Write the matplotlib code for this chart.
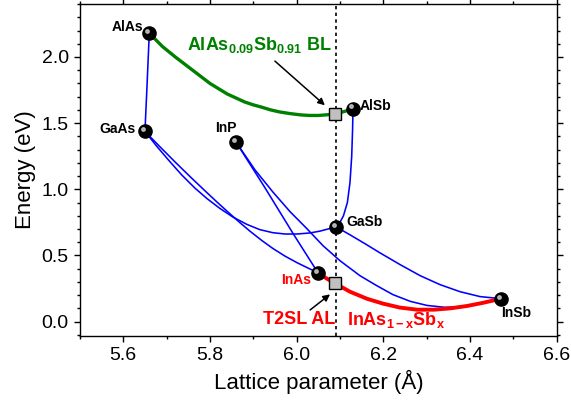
import matplotlib
matplotlib.use("Agg")
import matplotlib.pyplot as plt
import matplotlib.transforms as mtransforms
from matplotlib.ticker import MultipleLocator

plt.rcParams['font.family'] = ['Liberation Sans', 'DejaVu Sans']
plt.rcParams['mathtext.fontset'] = 'custom'
plt.rcParams['mathtext.rm'] = 'Liberation Sans'
plt.rcParams['mathtext.bf'] = 'Liberation Sans:bold'

# binary compounds: lattice parameter (A), band gap (eV)
names = ['AlAs', 'GaAs', 'InP', 'AlSb', 'GaSb', 'InAs', 'InSb']
a_bin = [5.66, 5.65, 5.86, 6.13, 6.091, 6.049, 6.472]
e_bin = [2.18, 1.437, 1.357, 1.61, 0.716, 0.37, 0.173]

# ternary curves
alassb_x = [5.66, 5.675, 5.69, 5.705, 5.72, 5.74, 5.76, 5.78, 5.80, 5.82, 5.84, 5.86,
            5.88, 5.90, 5.92, 5.94, 5.96, 5.985, 6.01, 6.03, 6.05, 6.07, 6.09, 6.11, 6.13]
alassb_e = [2.18, 2.13, 2.08, 2.04, 2.00, 1.95, 1.90, 1.85, 1.80, 1.76, 1.72, 1.69,
            1.66, 1.638, 1.62, 1.60, 1.585, 1.572, 1.562, 1.558, 1.558, 1.563, 1.572, 1.588, 1.61]

algaas_x = [5.66, 5.655, 5.65]
algaas_e = [2.18, 1.80, 1.437]

algasb_x = [6.130, 6.129, 6.127, 6.123, 6.117, 6.108, 6.100, 6.091]
algasb_e = [1.61, 1.45, 1.25, 1.05, 0.90, 0.80, 0.75, 0.716]

gaassb_x = [5.65, 5.678, 5.708, 5.735, 5.765, 5.793, 5.823, 5.853, 5.885, 5.915,
            5.945, 5.973, 6.001, 6.031, 6.054, 6.091]
gaassb_e = [1.437, 1.322, 1.207, 1.108, 1.010, 0.930, 0.855, 0.790, 0.735, 0.695,
            0.672, 0.662, 0.662, 0.670, 0.684, 0.716]

ingaas_x = [5.65, 5.685, 5.719, 5.754, 5.788, 5.818, 5.846, 5.869, 5.892, 5.920,
            5.945, 5.973, 6.001, 6.026, 6.049]
ingaas_e = [1.437, 1.320, 1.208, 1.096, 0.990, 0.898, 0.815, 0.748, 0.684, 0.612,
            0.553, 0.495, 0.445, 0.405, 0.37]

inasp_x = [5.860, 5.927, 5.992, 6.049]
inasp_e = [1.357, 1.011, 0.664, 0.37]

inpsb_x = [5.860, 5.904, 5.945, 5.985, 6.024, 6.061, 6.100, 6.146, 6.183, 6.222,
           6.262, 6.301, 6.342, 6.377, 6.423, 6.472]
inpsb_e = [1.357, 1.146, 0.980, 0.830, 0.701, 0.573, 0.460, 0.347, 0.275, 0.204,
           0.153, 0.122, 0.108, 0.112, 0.135, 0.173]

gainsb_x = [6.091, 6.123, 6.158, 6.192, 6.239, 6.285, 6.331, 6.377, 6.423, 6.472]
gainsb_e = [0.716, 0.656, 0.588, 0.520, 0.430, 0.347, 0.279, 0.226, 0.189, 0.173]

inassb_x = [6.049, 6.070, 6.088, 6.123, 6.162, 6.199, 6.238, 6.278, 6.317, 6.354,
            6.393, 6.430, 6.472]
inassb_e = [0.37, 0.324, 0.29, 0.226, 0.173, 0.136, 0.106, 0.09, 0.09, 0.100,
            0.118, 0.142, 0.173]

# lattice-matched points
sq_x = [6.088, 6.088]
sq_e = [1.572, 0.292]
a_match = 6.09

fig = plt.figure(figsize=(5.71, 4.05), dpi=100)
ax = fig.add_axes([0.140, 0.170, 0.835, 0.820])

blue = '#0000ff'
for xs, es in [(algaas_x, algaas_e), (algasb_x, algasb_e), (gaassb_x, gaassb_e),
               (ingaas_x, ingaas_e), (inasp_x, inasp_e), (inpsb_x, inpsb_e),
               (gainsb_x, gainsb_e)]:
    ax.plot(xs, es, color=blue, lw=1.15, zorder=2, solid_joinstyle='round')

ax.plot(alassb_x, alassb_e, color='#008000', lw=2.4, zorder=3, solid_joinstyle='round')
ax.plot(inassb_x, inassb_e, color='#ff0000', lw=2.8, zorder=3, solid_joinstyle='round')

ax.axvline(a_match, color='black', lw=1.2, ls=(0, (2, 2)), zorder=1)

# spheres with a small highlight
ax.plot(a_bin, e_bin, 'o', color='black', ms=9.5, zorder=5)
hl = mtransforms.offset_copy(ax.transData, fig=fig, x=-1.5, y=1.5, units='points')
ax.plot(a_bin, e_bin, 'o', color='#d0d0d0', ms=2.5, alpha=0.8, transform=hl, zorder=6)

ax.plot(sq_x, sq_e, 's', mfc='#c0c0c0', mec='black', mew=1.0, ms=8.5, zorder=6)

lab = dict(fontsize=10, fontweight='bold', va='center')
ax.text(5.645, 2.225, 'AlAs', ha='right', **lab)
ax.text(5.629, 1.455, 'GaAs', ha='right', **lab)
ax.text(5.837, 1.463, 'InP', ha='center', **lab)
ax.text(6.146, 1.629, 'AlSb', ha='left', **lab)
ax.text(6.114, 0.754, 'GaSb', ha='left', **lab)
ax.text(6.033, 0.317, 'InAs', ha='right', color='#ff0000', **lab)
ax.text(6.472, 0.068, 'InSb', ha='left', **lab)

ax.text(5.747, 2.09, r'$\mathbf{AlAs_{0.09}Sb_{0.91}}$ BL', color='#008000',
        fontsize=13, fontweight='bold', ha='left', va='center')
ax.text(5.922, 0.015, 'T2SL AL', color='#ff0000', fontsize=13, fontweight='bold',
        ha='left', va='center')
ax.text(6.116, 0.015, r'$\mathbf{InAs_{1-x}Sb_{x}}$', color='#ff0000', fontsize=13,
        ha='left', va='center')

arr = dict(arrowstyle='-|>', color='black', lw=1.1, mutation_scale=10)
ax.annotate('', xy=(6.070, 1.621), xytext=(5.945, 1.983), arrowprops=arr)
ax.annotate('', xy=(6.082, 0.219), xytext=(6.026, 0.075), arrowprops=arr)

ax.set_xlim(5.5, 6.6)
ax.set_ylim(-0.11, 2.40)
ax.xaxis.set_major_locator(MultipleLocator(0.2))
ax.xaxis.set_minor_locator(MultipleLocator(0.1))
ax.yaxis.set_major_locator(MultipleLocator(0.5))
ax.yaxis.set_minor_locator(MultipleLocator(0.1))
ax.tick_params(which='both', direction='out', top=True, right=True, width=1.0)
ax.tick_params(which='major', length=4.5, labelsize=14)
ax.tick_params(which='minor', length=2.5)
for s in ax.spines.values():
    s.set_linewidth(1.0)

ax.set_xlabel('Lattice parameter (Å)', fontsize=16)
ax.set_ylabel('Energy (eV)', fontsize=16)

fig.savefig('out.png', dpi=100)
